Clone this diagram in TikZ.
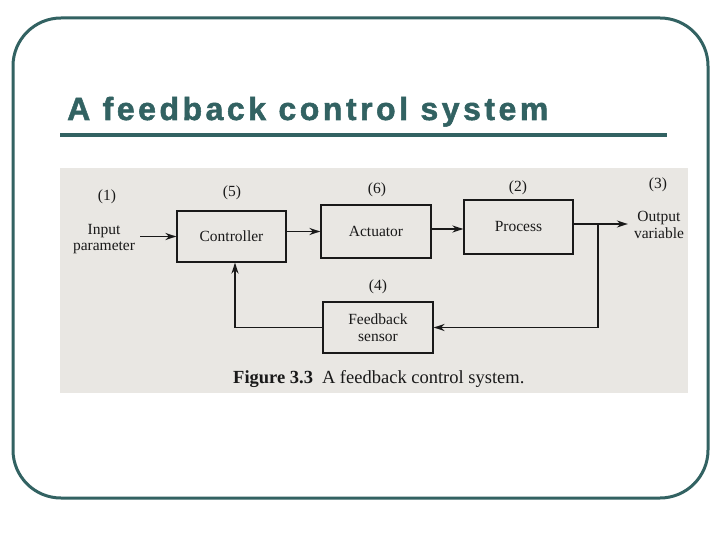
\documentclass[tikz,border=0pt]{standalone}
\usepackage{fontspec}
\setmainfont{Liberation Serif}
\newfontfamily\titlefont[FakeBold=1.6,LetterSpace=11]{Liberation Sans Bold}
\usetikzlibrary{arrows.meta}
\definecolor{slate}{RGB}{50,98,98}
\definecolor{paper}{RGB}{233,231,227}
\definecolor{ink}{RGB}{25,25,25}
\begin{document}
\begin{tikzpicture}[x=1pt,y=-1pt,
  blk/.style={draw=ink, line width=1.2pt, minimum width=109pt, minimum height=52pt, inner sep=0pt,
    font=\fontsize{15.5}{17}\selectfont, align=center, text=ink},
  lbl/.style={font=\fontsize{15.5}{16.5}\selectfont, text=ink, align=center, inner sep=0pt},
  arr/.style={draw=ink, line width=1.8pt, -{Stealth[length=11pt,width=7pt]}},
  ]
\useasboundingbox (0,0) rectangle (720,540);
\fill[white] (0,0) rectangle (720,540);
% slide frame
\draw[slate, line width=3pt, rounded corners=48pt] (13,18) rectangle (708,498);
\node[anchor=base west, inner sep=0pt, text=slate,
  font=\titlefont\fontsize{32}{38}\selectfont] (title) at (67,120) {A feedback control system};
\draw[slate, line width=3.5pt] (60,135) -- (667,135);
% scanned figure background
\fill[paper] (60,168) rectangle (688,393);
% blocks
\node[blk, minimum width=109pt, minimum height=51pt] (ctrl) at (231.5,236.5) {Controller};
\node[blk, minimum width=110pt, minimum height=53pt] (act) at (376,231.5) {Actuator};
\node[blk, minimum width=109pt, minimum height=54pt] (proc) at (518.5,227) {Process};
\node[blk, minimum width=110pt, minimum height=51pt] (sens) at (378,327.5) {Feedback\\sensor};
% side labels
\node[lbl] (in) at (104,239) {Input\\parameter};
\node[lbl] (out) at (659,225) {Output\\variable};
\node[lbl] (n1) at (107,197) {(1)};
\node[lbl] (n5) at (232,193) {(5)};
\node[lbl] (n6) at (377,190) {(6)};
\node[lbl] (n2) at (518,188) {(2)};
\node[lbl] (n3) at (658,185) {(3)};
\node[lbl] (n4) at (378,287) {(4)};
% connectors
\coordinate (br) at (598,224);
\draw[arr] ([xshift=5pt]in.east |- ctrl.west) -- (ctrl.west);
\draw[arr] (ctrl.east |- act.west) -- (act.west);
\draw[arr] (act.east |- 0,229) -- (proc.west |- 0,229);
\draw[arr] (proc.east |- br) -- ([xshift=-6pt]out.west |- br);
\draw[arr] (br) |- (sens.east);
\draw[arr] (sens.west) -| ([xshift=3.5pt]ctrl.south);
% caption
\node[anchor=base west, inner sep=0pt, text=ink, font=\fontsize{18.5}{20}\selectfont] (cap) at (233,383)
  {\textbf{Figure 3.3}\hspace{9pt}A feedback control system.};
\end{tikzpicture}
\end{document}
